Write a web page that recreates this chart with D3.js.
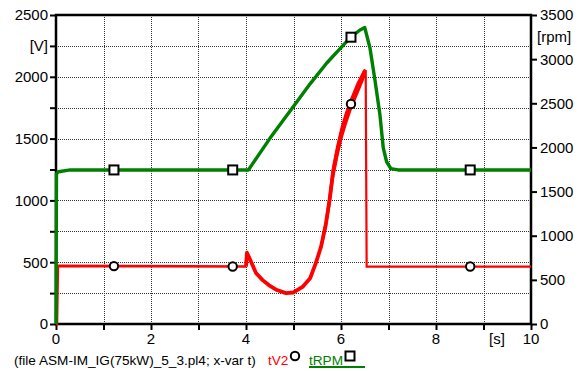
<!DOCTYPE html>
<html>
<head>
<meta charset="utf-8">
<script src="https://cdn.jsdelivr.net/npm/d3@7"></script>
<style>
  body { margin: 0; background: #fff; }
  text { font-family: "Liberation Sans", Arial, sans-serif; }
</style>
</head>
<body>
<div id="chart"></div>
<script>
// voltage tV2 [V]
const v2Time  = [0, 0.02, 0.04, 4.0, 4.02, 4.1, 4.21, 4.35, 4.48, 4.65, 4.84, 5.0, 5.19, 5.35, 5.47, 5.58, 5.68, 5.76, 5.83, 5.92, 6.01, 6.1, 6.21, 6.35, 6.5, 6.52, 6.54, 10];
const v2Value = [0, 0, 470, 465, 577, 510, 413, 355, 315, 275, 250, 255, 300, 370, 493, 626, 805, 1005, 1220, 1395, 1545, 1660, 1780, 1910, 2047, 2047, 465, 465];
// oscillation band of tV2
const bandTime = [5.58, 5.68, 5.76, 5.83, 5.92, 6.01, 6.1, 6.21, 6.35, 6.5];
const bandLow  = [610, 780, 965, 1175, 1350, 1500, 1615, 1740, 1870, 2010];
const bandHigh = [640, 830, 1045, 1265, 1440, 1590, 1705, 1820, 1950, 2060];
// speed tRPM [rpm]
const rpmTime  = [0, 0.01, 0.05, 0.3, 4.05, 4.5, 4.99, 5.35, 5.7, 6.0, 6.19, 6.4, 6.5, 6.61, 6.72, 6.82, 6.89, 6.96, 7.05, 7.2, 10];
const rpmValue = [0, 1700, 1725, 1745, 1745, 2100, 2458, 2720, 2956, 3130, 3240, 3330, 3358, 3126, 2745, 2367, 1995, 1838, 1760, 1745, 1745];
// marker times
const markerTime = [1.22, 3.72, 6.21, 8.72];

const xLabels = [0, 2, 4, 6, 8, 10];
const vLabels = [0, 500, 1000, 1500, 2000, 2500];
const rpmLabels = [0, 500, 1000, 1500, 2000, 2500, 3000, 3500];

const W = 580, H = 371;
const pLeft = 56, pRight = 531, pTop = 15, pBottom = 324;

const svg = d3.select('#chart').append('svg').attr('width', W).attr('height', H);

const x = d3.scaleLinear().domain([0, 10]).range([pLeft, pRight]);
const yV = d3.scaleLinear().domain([0, 2500]).range([pBottom, pTop]);
const yR = d3.scaleLinear().domain([0, 3500]).range([pBottom, pTop]);

// grid
const grid = svg.append('g').attr('stroke', '#333').attr('stroke-width', 1).attr('stroke-dasharray', '1,1');
grid.selectAll('.gx').data(d3.range(1, 10)).enter().append('line')
    .attr('x1', d => Math.round(x(d)) + 0.5).attr('x2', d => Math.round(x(d)) + 0.5)
    .attr('y1', pTop).attr('y2', pBottom);
grid.selectAll('.gy').data(d3.range(250, 2500, 250)).enter().append('line')
    .attr('x1', pLeft).attr('x2', pRight)
    .attr('y1', d => Math.round(yV(d)) + 0.5).attr('y2', d => Math.round(yV(d)) + 0.5);

// axes
const axLeft = svg.append('g').attr('transform', 'translate(' + pLeft + ',0)')
    .call(d3.axisLeft(yV).tickValues(d3.range(0, 2501, 250)).tickSize(6).tickFormat(''));
const axRight = svg.append('g').attr('transform', 'translate(' + pRight + ',0)')
    .call(d3.axisRight(yR).tickValues(rpmLabels).tickSize(6).tickFormat(''));
const axBottom = svg.append('g').attr('transform', 'translate(0,' + pBottom + ')')
    .call(d3.axisBottom(x).tickValues(d3.range(0, 11)).tickSize(6).tickFormat(''));
[axLeft, axRight, axBottom].forEach(function(a) {
    a.select('.domain').remove();
    a.selectAll('line').attr('stroke', '#000').attr('stroke-width', 2);
});

// frame
svg.append('rect').attr('x', pLeft).attr('y', pTop).attr('width', pRight - pLeft).attr('height', pBottom - pTop)
    .attr('fill', 'none').attr('stroke', '#000').attr('stroke-width', 2.5);

// tick labels
svg.selectAll('.lv').data(vLabels).enter().append('text')
    .attr('x', 48).attr('y', d => yV(d)).attr('dy', '0.36em')
    .attr('text-anchor', 'end').attr('font-size', 15).text(d => d);
svg.append('text').attr('x', 48).attr('y', yV(2250)).attr('dy', '0.36em')
    .attr('text-anchor', 'end').attr('font-size', 15).text('[V]');
svg.selectAll('.lr').data(rpmLabels).enter().append('text')
    .attr('x', 540).attr('y', d => yR(d)).attr('dy', '0.36em')
    .attr('font-size', 15).text(d => d);
svg.append('text').attr('x', 537).attr('y', yR(3250)).attr('dy', '0.36em')
    .attr('font-size', 15).text('[rpm]');
svg.selectAll('.lx').data(xLabels).enter().append('text')
    .attr('x', d => x(d)).attr('y', 344)
    .attr('text-anchor', 'middle').attr('font-size', 15).text(d => d);
svg.append('text').attr('x', 497).attr('y', 344)
    .attr('text-anchor', 'middle').attr('font-size', 15).text('[s]');

// series
const v2Pts = v2Time.map((t, i) => [t, v2Value[i]]);
const rpmPts = rpmTime.map((t, i) => [t, rpmValue[i]]);

svg.append('path')
    .datum(bandTime.map((t, i) => ({t: t, lo: bandLow[i], hi: bandHigh[i]})))
    .attr('fill', '#ff0000')
    .attr('stroke', '#ff0000').attr('stroke-width', 2)
    .attr('d', d3.area().x(d => x(d.t)).y0(d => yV(d.lo)).y1(d => yV(d.hi)));

const v2Line = d3.line().x(d => x(d[0])).y(d => yV(d[1]));
svg.append('path').datum(v2Pts.filter(d => d[0] <= 4.0))
    .attr('fill', 'none').attr('stroke', '#ff0000').attr('stroke-width', 2.6)
    .attr('d', v2Line);
svg.append('path').datum(v2Pts.filter(d => d[0] >= 4.0 && d[0] <= 6.5))
    .attr('fill', 'none').attr('stroke', '#ff0000').attr('stroke-width', 3.8)
    .attr('stroke-linejoin', 'round').attr('d', v2Line);
svg.append('path').datum(v2Pts.filter(d => d[0] >= 6.5))
    .attr('fill', 'none').attr('stroke', '#ff0000').attr('stroke-width', 2.2)
    .attr('d', v2Line);

svg.append('path').datum(rpmPts)
    .attr('fill', 'none').attr('stroke', '#008000').attr('stroke-width', 3.4)
    .attr('stroke-linejoin', 'round')
    .attr('d', d3.line().x(d => x(d[0])).y(d => yR(d[1])));

// markers
function valueAt(ts, vs, t) {
    const i = Math.max(1, d3.bisectLeft(ts, t));
    const f = (t - ts[i - 1]) / (ts[i] - ts[i - 1]);
    return vs[i - 1] + f * (vs[i] - vs[i - 1]);
}
svg.selectAll('.mv').data(markerTime).enter().append('circle')
    .attr('cx', d => x(d)).attr('cy', d => yV(valueAt(v2Time, v2Value, d)))
    .attr('r', 4.2).attr('fill', '#fff').attr('stroke', '#000').attr('stroke-width', 2);
svg.selectAll('.mr').data(markerTime).enter().append('rect')
    .attr('x', d => x(d) - 4.5).attr('y', d => yR(valueAt(rpmTime, rpmValue, d)) - 4.5)
    .attr('width', 9).attr('height', 9)
    .attr('fill', '#fff').attr('stroke', '#000').attr('stroke-width', 2);

// legend
svg.append('text').attr('x', 14).attr('y', 365).attr('font-size', 13.6)
    .text('(file ASM-IM_IG(75kW)_5_3.pl4; x-var t)');
svg.append('text').attr('x', 268).attr('y', 365).attr('font-size', 13.6)
    .attr('fill', '#ff0000').text('tV2');
svg.append('circle').attr('cx', 295).attr('cy', 356).attr('r', 4.2)
    .attr('fill', '#fff').attr('stroke', '#000').attr('stroke-width', 2);
svg.append('text').attr('x', 309).attr('y', 365).attr('font-size', 13.6)
    .attr('fill', '#008000').text('tRPM');
svg.append('rect').attr('x', 345.5).attr('y', 351.5).attr('width', 9).attr('height', 9)
    .attr('fill', '#fff').attr('stroke', '#000').attr('stroke-width', 2);
svg.append('line').attr('x1', 309).attr('x2', 365).attr('y1', 367).attr('y2', 367)
    .attr('stroke', '#008000').attr('stroke-width', 2);
</script>
</body>
</html>
